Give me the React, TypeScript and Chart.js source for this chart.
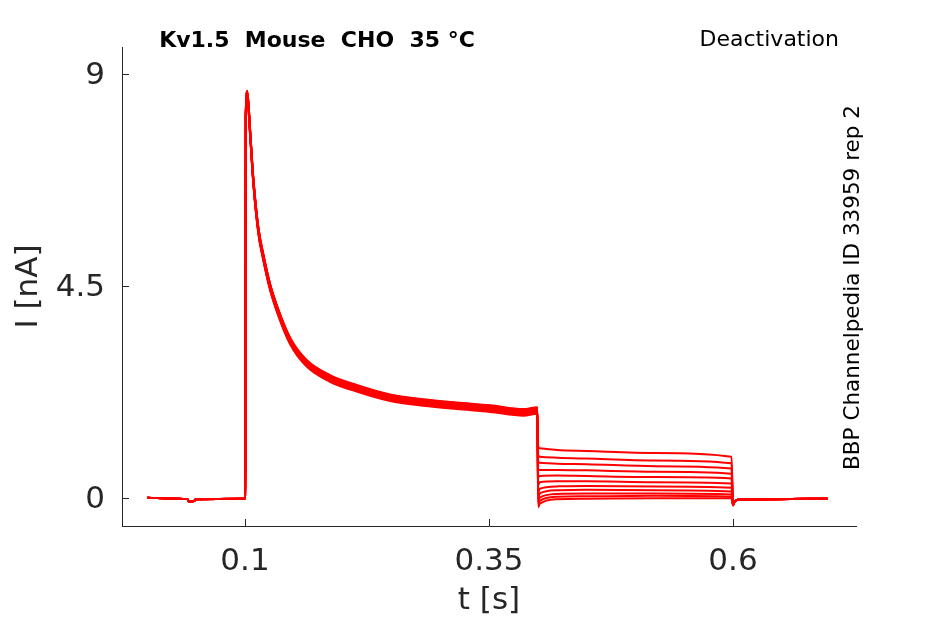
import React, { useEffect, useRef } from 'react';
import { Chart, registerables, Plugin } from 'chart.js';

Chart.register(...registerables);

// axis ticks
const xTicks = [0.1, 0.35, 0.6];
const yTicks = [0, 4.5, 9];

// holding period before the step (shared by all sweeps)
const baseT = [0.0, 0.03, 0.041, 0.0425, 0.048, 0.0495, 0.0995];
const baseI = [0.01, -0.01, -0.02, -0.07, -0.06, -0.02, -0.01];

// activating step, 0.1 - 0.4 s
const actT = [0.1, 0.1005, 0.1008, 0.1024, 0.1051, 0.1085, 0.1137, 0.1188, 0.1256, 0.1341, 0.1461, 0.1632, 0.1871, 0.2144, 0.2486, 0.2827, 0.3169, 0.351, 0.3852, 0.3995];
const actI = [0.0, 1.6, 8.1, 8.58, 7.81, 6.75, 5.69, 5.12, 4.5, 3.95, 3.35, 2.87, 2.55, 2.34, 2.14, 2.04, 1.97, 1.91, 1.83, 1.87];
// small sweep-to-sweep spread of the activating current
const actSpread = [0.0, -0.05, 0.04, -0.08, 0.06, -0.02, 0.03, -0.06, 0.05, -0.03, 0.02];

// deactivation tails, 0.4 - 0.6 s, one row per sweep
const tailT = [0.4004, 0.402, 0.42, 0.45, 0.52, 0.5985];
const tails = [
  [1.1, 1.06, 1.02, 1.0, 0.96, 0.88],
  [0.92, 0.88, 0.86, 0.84, 0.8, 0.74],
  [0.78, 0.75, 0.73, 0.72, 0.68, 0.63],
  [0.6, 0.6, 0.6, 0.59, 0.56, 0.52],
  [0.44, 0.47, 0.48, 0.47, 0.45, 0.42],
  [0.28, 0.34, 0.36, 0.36, 0.34, 0.31],
  [0.12, 0.2, 0.25, 0.26, 0.25, 0.22],
  [0.0, 0.1, 0.17, 0.18, 0.17, 0.14],
  [-0.08, 0.01, 0.09, 0.1, 0.1, 0.08],
  [-0.14, -0.06, 0.03, 0.04, 0.05, 0.03],
  [-0.19, -0.12, -0.02, -0.01, 0.0, 0.0],
];

// return to holding after 0.6 s
const endT = [0.6, 0.6015, 0.606, 0.64, 0.697];
const endI = [-0.15, -0.08, -0.03, -0.02, -0.01];

const FONT = "'DejaVu Sans', sans-serif";
const AXIS = '#262626';

const buildSweep = (k: number) => {
  const pts: { x: number; y: number }[] = [];
  baseT.forEach((t, i) => pts.push({ x: t, y: baseI[i] }));
  actT.forEach((t, i) => pts.push({ x: t, y: i === 0 ? actI[i] : actI[i] + actSpread[k] }));
  tailT.forEach((t, i) => pts.push({ x: t, y: tails[k][i] }));
  endT.forEach((t, i) => pts.push({ x: t, y: endI[i] }));
  return pts;
};

// inward tick marks plus the free text around the axes
const decorPlugin: Plugin = {
  id: 'decor',
  afterDraw(chart) {
    const { ctx, chartArea, scales } = chart;
    ctx.save();
    ctx.strokeStyle = AXIS;
    ctx.lineWidth = 1;
    ctx.beginPath();
    yTicks.forEach((v) => {
      const y = Math.round(scales.y.getPixelForValue(v)) + 0.5;
      ctx.moveTo(chartArea.left, y);
      ctx.lineTo(chartArea.left + 7, y);
    });
    xTicks.forEach((v) => {
      const x = Math.round(scales.x.getPixelForValue(v)) + 0.5;
      ctx.moveTo(x, chartArea.bottom);
      ctx.lineTo(x, chartArea.bottom - 7);
    });
    ctx.stroke();

    ctx.fillStyle = '#000';
    ctx.textBaseline = 'alphabetic';
    ctx.font = `bold 22px ${FONT}`;
    ctx.textAlign = 'center';
    ctx.fillText('Kv1.5  Mouse  CHO  35 °C', 317, 47);

    ctx.font = `22px ${FONT}`;
    ctx.textAlign = 'right';
    ctx.fillText('Deactivation', 839, 46);

    ctx.translate(859, 287.5);
    ctx.rotate(-Math.PI / 2);
    ctx.font = `21.5px ${FONT}`;
    ctx.textAlign = 'center';
    ctx.fillText('BBP Channelpedia ID 33959 rep 2', 0, 0);
    ctx.restore();
  },
};

const App: React.FC = () => {
  const canvasRef = useRef<HTMLCanvasElement>(null);

  useEffect(() => {
    if (!canvasRef.current) return;
    const chart = new Chart(canvasRef.current, {
      type: 'line',
      data: {
        datasets: tails.map((_, k) => ({
          data: buildSweep(k),
          borderColor: '#ff0000',
          borderWidth: 2,
          pointRadius: 0,
          cubicInterpolationMode: 'monotone' as const,
          fill: false,
        })),
      },
      options: {
        animation: false,
        responsive: false,
        events: [],
        layout: { padding: { left: 0, right: 89, top: 47, bottom: 0 } },
        plugins: { legend: { display: false }, tooltip: { enabled: false } },
        scales: {
          x: {
            type: 'linear',
            min: -0.026,
            max: 0.726,
            afterBuildTicks: (s) => {
              s.ticks = xTicks.map((v) => ({ value: v }));
            },
            afterFit: (s) => {
              s.height = 98;
            },
            grid: { display: false, drawTicks: false },
            border: { display: true, color: AXIS, width: 1 },
            ticks: {
              autoSkip: false,
              maxRotation: 0,
              padding: 17,
              color: AXIS,
              font: { family: FONT, size: 31 },
              callback: (v) => String(v),
            },
            title: {
              display: true,
              text: 't [s]',
              color: AXIS,
              font: { family: FONT, size: 31 },
              padding: { top: 4, bottom: 4 },
            },
          },
          y: {
            type: 'linear',
            min: -0.59,
            max: 9.57,
            afterBuildTicks: (s) => {
              s.ticks = yTicks.map((v) => ({ value: v }));
            },
            afterFit: (s) => {
              s.width = 122;
            },
            grid: { display: false, drawTicks: false },
            border: { display: true, color: AXIS, width: 1 },
            ticks: {
              autoSkip: false,
              padding: 17,
              labelOffset: 2,
              color: AXIS,
              font: { family: FONT, size: 31 },
              callback: (v) => String(v),
            },
            title: {
              display: true,
              text: 'I [nA]',
              color: AXIS,
              font: { family: FONT, size: 31 },
              padding: { top: 10, bottom: 4 },
            },
          },
        },
      },
      plugins: [decorPlugin],
    });
    return () => chart.destroy();
  }, []);

  return (
    <div style={{ position: 'absolute', left: 0, top: 0, width: 945, height: 624, background: '#fff' }}>
      <canvas ref={canvasRef} width={945} height={624} style={{ width: 945, height: 624 }} />
    </div>
  );
};

export default App;
